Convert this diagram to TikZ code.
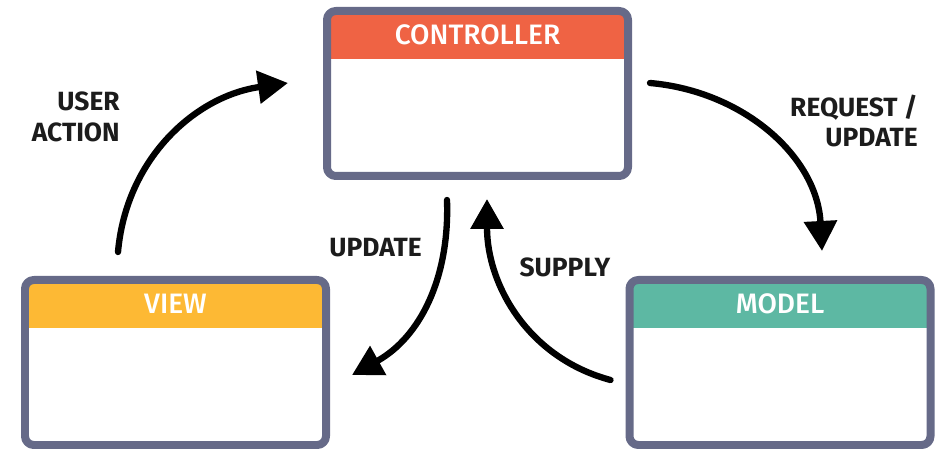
\documentclass[tikz,border=0pt]{standalone}
\usepackage{fontspec}
\setmainfont{Fira Sans}
\newfontfamily\headfont{Fira Sans Medium}
\usetikzlibrary{arrows.meta}
\definecolor{frame}{HTML}{666A88}
\definecolor{ctrlred}{HTML}{EF6344}
\definecolor{viewgold}{HTML}{FDB934}
\definecolor{modelteal}{HTML}{5DB8A3}
\definecolor{ink}{HTML}{1C1C1C}
\begin{document}
\begin{tikzpicture}[line join=round, line cap=round, >={Triangle[length=.6cm,width=.64cm]},
	panel/.style={fill=white, minimum width=6.02cm, minimum height=3.3cm, outer sep=0pt, inner sep=0pt},
	title/.style={text=white, inner sep=0pt, font=\headfont\fontsize{16}{19}\selectfont},
	tag/.style={text=ink, inner sep=0pt, font=\bfseries\fontsize{15}{17.6}\selectfont},
	flow/.style={->, line width=3.6pt}]
		\useasboundingbox (0,0) rectangle (18.82,8.98);
		\node[panel] (ctrl) at (9.55,7.11) {};
		\node[panel] (view) at (3.51,1.73) {};
		\node[panel] (model) at (15.6,1.73) {};
		\foreach \b/\c/\t in {ctrl/ctrlred/CONTROLLER, view/viewgold/VIEW, model/modelteal/MODEL}{
			\fill[\c] ([yshift=-.96cm]\b.north west) [rounded corners=5pt] -- (\b.north west) -- (\b.north east) [sharp corners] -- ([yshift=-.96cm]\b.north east) -- cycle;
			\draw[frame, line width=4.55pt, rounded corners=5pt] (\b.north west) rectangle (\b.south east);
			\node[title] (\b-title) at ([yshift=-.48cm]\b.north) {\t};
		}
		\draw[flow] ([shift={(-1.15,.56)}]view.north) to[out=85,in=188] ([shift={(-.78,.21)}]ctrl.west);
		\draw[flow] ([shift={(.44,.21)}]ctrl.east) to[out=-5,in=93] ([shift={(.84,.58)}]model.north);
		\draw[flow] ([shift={(-.61,-.48)}]ctrl.south) to[out=-88,in=29] ([shift={(.52,-.25)}]view.east);
		\draw[flow] ([shift={(-.38,-.35)}]model.west) to[out=165,in=-90] ([shift={(.19,-.46)}]ctrl.south);
		\node[tag, anchor=east, align=right] (act) at (2.4,6.64) {USER\\ACTION};
		\node[tag, anchor=east, align=right] (req) at (18.36,6.56) {REQUEST /\\UPDATE};
		\node[tag] (upd) at (7.51,4.02) {UPDATE};
		\node[tag] (sup) at (11.3,3.64) {SUPPLY};
\end{tikzpicture}
\end{document}
